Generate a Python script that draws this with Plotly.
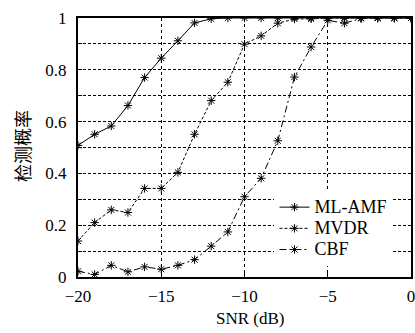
import plotly.graph_objects as go

snr = [-20, -19, -18, -17, -16, -15, -14, -13, -12, -11, -10, -9, -8, -7, -6, -5, -4, -3, -2, -1, 0]
ml_amf = [0.508, 0.551, 0.583, 0.662, 0.770, 0.845, 0.912, 0.981, 0.997, 1.0, 1.0, 1.0, 1.0, 1.0, 1.0, 1.0, 1.0, 1.0, 1.0, 1.0, 1.0]
mvdr = [0.139, 0.210, 0.259, 0.249, 0.342, 0.342, 0.404, 0.551, 0.681, 0.752, 0.899, 0.931, 0.980, 0.996, 0.997, 1.0, 1.0, 1.0, 1.0, 1.0, 1.0]
cbf = [0.022, 0.010, 0.045, 0.020, 0.039, 0.030, 0.045, 0.067, 0.119, 0.174, 0.310, 0.381, 0.526, 0.772, 0.888, 0.991, 0.980, 0.998, 1.0, 1.0, 1.0]

x_ticks = [-20, -15, -10, -5, 0]
x_ticktext = ["\u221220", "\u221215", "\u221210", "\u22125", "0"]
y_ticks = [0, 0.2, 0.4, 0.6, 0.8, 1]
y_ticktext = ["0", "0.2", "0.4", "0.6", "0.8", "1"]

series = [
    ("ML-AMF", ml_amf, "solid"),
    ("MVDR", mvdr, "3px,2px"),
    ("CBF", cbf, "7px,3px,2px,3px"),
]

fig = go.Figure()
for name, vals, dash in series:
    fig.add_trace(go.Scatter(
        x=snr, y=vals, mode="lines+markers",
        name='<span style="font-size:18px">' + name + "</span>",
        line=dict(color="black", width=1, dash=dash),
        marker=dict(symbol="asterisk-open", size=7, color="black",
                    line=dict(color="black", width=1)),
    ))

serif = "Liberation Serif"
fig.update_layout(
    width=415, height=333,
    margin=dict(l=78, r=4, t=18, b=56, autoexpand=False),
    paper_bgcolor="white", plot_bgcolor="white",
    font=dict(family=serif, size=17, color="black"),
    showlegend=True,
    legend=dict(
        x=0.59, y=0.33, xanchor="left", yanchor="top",
        bgcolor="white", borderwidth=0,
        font=dict(family=serif, size=14, color="black"),
        tracegroupgap=0,
    ),
)
fig.add_annotation(text="SNR (dB)", xref="paper", yref="paper",
                   x=(250 - 78) / 333, y=-(318 - 277) / 259,
                   xanchor="center", yanchor="middle", showarrow=False,
                   font=dict(family=serif, size=17))
fig.add_annotation(text="检测概率", xref="paper", yref="paper",
                   x=-(78 - 22) / 333, y=(277 - 146) / 259, textangle=-90,
                   xanchor="center", yanchor="middle", showarrow=False,
                   font=dict(family="Noto Sans CJK SC", size=18))

fig.update_xaxes(
    range=[-20, 0], tickvals=x_ticks, ticktext=x_ticktext,
    showline=True, linewidth=2, linecolor="black", mirror=True,
    ticks="inside", ticklen=4, tickcolor="black",
    showgrid=True, gridcolor="black", gridwidth=1, griddash="dot",
    zeroline=False, automargin=False, ticklabeloverflow="allow",
    ticklabelstandoff=3,
    tickfont=dict(family=serif, size=17),
)
fig.update_yaxes(
    range=[0, 1], tickvals=y_ticks, ticktext=y_ticktext,
    showline=True, linewidth=2, linecolor="black", mirror=True,
    ticks="inside", ticklen=4, tickcolor="black",
    showgrid=True, gridcolor="black", gridwidth=1, griddash="3px,2px",
    minor=dict(dtick=0.1, tick0=0, showgrid=True, gridcolor="black", gridwidth=1,
               griddash="3px,2px", ticks="inside", ticklen=4, tickcolor="black"),
    zeroline=False, automargin=False, ticklabeloverflow="allow",
    ticklabelstandoff=6,
    tickfont=dict(family=serif, size=17),
)

fig.write_html("out.html", config={"displayModeBar": False},
               post_script="document.body.style.margin='0';")
